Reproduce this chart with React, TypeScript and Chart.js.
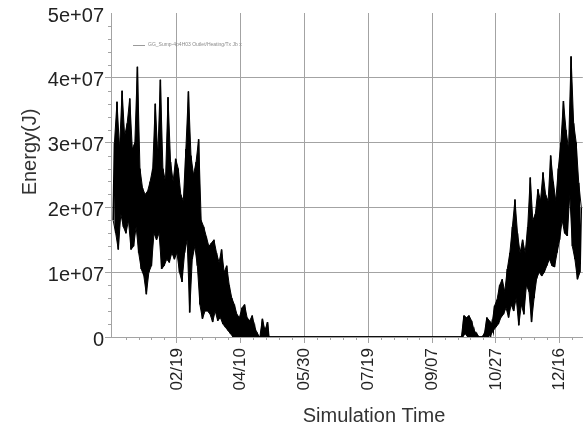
import React, { useEffect, useRef } from "react";
import { Chart, registerables } from "chart.js";

Chart.register(...registerables);

// ---- data (energy values in units of 1e7 J) ----
const seriesLabel = "GG_Sump-4p4H03 Outlet/Heating/Tx Jb x";
const xTickDays = [50, 100, 150, 200, 250, 300, 350];
const xTickLabels = ["02/19", "04/10", "05/30", "07/19", "09/07", "10/27", "12/16"];
const yTickValues = [0, 1e7, 2e7, 3e7, 4e7, 5e7];
const yTickLabels = ["0", "1e+07", "2e+07", "3e+07", "4e+07", "5e+07"];
const xAxisRange = [-1.7, 368.2];

// winter part: one low / high pair every 2 days starting at day 0
const winterStartDay = 0;
const winterHigh = [
  3.0, 3.63, 2.9, 3.8, 3.1, 3.3, 3.68, 2.9, 3.0, 4.17,
  2.6, 2.3, 2.2, 2.25, 2.4, 2.6, 3.6, 2.8, 3.97, 2.6,
  2.4, 3.7, 2.7, 2.4, 2.75, 2.6, 2.2, 2.1, 2.9, 3.79,
  2.8, 2.5, 2.7, 3.05, 1.8, 1.7, 1.55, 1.4, 1.45, 1.5,
  1.3, 1.15, 1.35, 1.0, 1.1, 0.8, 0.6, 0.5, 0.35, 0.3,
  0.45, 0.5, 0.3, 0.25, 0.33, 0.15, 0.05, 0, 0.28, 0.1,
  0.23,
];
const winterLow = [
  1.8, 1.6, 1.35, 1.9, 1.7, 1.6, 1.8, 1.35, 1.4, 1.7,
  1.3, 1.05, 0.95, 0.66, 1.0, 1.1, 1.6, 1.5, 1.6, 1.05,
  1.1, 1.2, 1.15, 1.3, 1.2, 1.3, 1.0, 0.85, 1.3, 1.5,
  0.38, 1.2, 1.4, 1.1, 0.5, 0.28, 0.4, 0.4, 0.35, 0.23,
  0.4, 0.25, 0.3, 0.2, 0.15, 0.1, 0.05, 0, 0, 0,
  0, 0, 0, 0, 0, 0, 0, 0, 0, 0,
  0,
];

// summer: zero energy between these days
const summerZeroDays = [122, 271];

// autumn part: one low / high pair every 2 days starting at day 272
const autumnStartDay = 272;
const autumnHigh = [
  0, 0.33, 0.3, 0.33, 0.25, 0.1, 0.05, 0, 0, 0.05,
  0.3, 0.25, 0.2, 0.48, 0.58, 0.8, 0.89, 0.7, 1.05, 1.3,
  1.7, 2.12, 1.6, 1.3, 1.5, 1.3, 1.7, 2.46, 1.8, 1.9,
  2.28, 2.1, 2.54, 2.2, 2.1, 2.8, 2.4, 2.1, 2.6, 3.0,
  3.64, 3.2, 2.9, 4.33, 3.3, 3.0, 2.38, 2.0,
];
const autumnLow = [
  0, 0, 0.05, 0, 0, 0, 0, 0, 0, 0,
  0, 0, 0.03, 0.1, 0.15, 0.2, 0.3, 0.35, 0.45, 0.3,
  0.5, 0.4, 0.6, 0.18, 0.5, 0.35, 0.8, 0.7, 0.23, 0.6,
  0.9, 1.0, 0.94, 1.0, 1.1, 1.2, 1.1, 1.08, 1.3, 1.5,
  1.8, 1.6, 1.56, 2.2, 1.4, 1.2, 0.89, 1.0,
];

const UNIT = 1e7;

type Pt = { x: number; y: number };

function buildZigzag(): Pt[] {
  const pts: Pt[] = [];
  winterLow.forEach((lo, i) => {
    const d = winterStartDay + i * 2;
    pts.push({ x: d, y: lo * UNIT });
    pts.push({ x: d + 1, y: winterHigh[i] * UNIT });
  });
  summerZeroDays.forEach((d) => pts.push({ x: d, y: 0 }));
  autumnLow.forEach((lo, i) => {
    const d = autumnStartDay + i * 2;
    pts.push({ x: d, y: lo * UNIT });
    pts.push({ x: d + 1, y: autumnHigh[i] * UNIT });
  });
  return pts;
}

function buildEnvelope(which: "high" | "low"): Pt[] {
  const pts: Pt[] = [];
  const wArr = which === "high" ? winterHigh : winterLow;
  const aArr = which === "high" ? autumnHigh : autumnLow;
  const off = which === "high" ? 1 : 0;
  wArr.forEach((v, i) => pts.push({ x: winterStartDay + i * 2 + off, y: v * UNIT }));
  summerZeroDays.forEach((d) => pts.push({ x: d, y: 0 }));
  aArr.forEach((v, i) => pts.push({ x: autumnStartDay + i * 2 + off, y: v * UNIT }));
  return pts;
}

const FONT = "'Liberation Sans', Arial, sans-serif";
const GRID = "#a3a3a3";

const decorPlugin = {
  id: "decor",
  afterDraw(chart: any) {
    const ctx = chart.ctx;
    const xs = chart.scales.x;
    const ys = chart.scales.y;
    const area = chart.chartArea;
    ctx.save();
    // minor ticks
    ctx.strokeStyle = GRID;
    ctx.lineWidth = 1;
    ctx.beginPath();
    for (let v = 0; v <= 5e7; v += 2e6) {
      if (v % 1e7 === 0) continue;
      const y = Math.round(ys.getPixelForValue(v)) + 0.5;
      ctx.moveTo(area.left - 3, y);
      ctx.lineTo(area.left, y);
    }
    for (let d = 0; d <= 360; d += 10) {
      if (d % 50 === 0) continue;
      const x = Math.round(xs.getPixelForValue(d)) + 0.5;
      ctx.moveTo(x, area.bottom);
      ctx.lineTo(x, area.bottom + 3);
    }
    ctx.stroke();

    // legend
    const lx = area.left + 22;
    const ly = area.top + 32;
    ctx.strokeStyle = "#9a9a9a";
    ctx.beginPath();
    ctx.moveTo(lx, ly + 0.5);
    ctx.lineTo(lx + 12, ly + 0.5);
    ctx.stroke();
    ctx.fillStyle = "#8a8a8a";
    ctx.font = `5px ${FONT}`;
    ctx.textBaseline = "middle";
    ctx.textAlign = "left";
    ctx.fillText(chart.data.datasets[0].label, lx + 15, ly);

    // axis titles
    ctx.fillStyle = "#333";
    ctx.font = `20px ${FONT}`;
    ctx.textAlign = "center";
    ctx.textBaseline = "middle";
    ctx.fillText("Simulation Time", 374, 416);
    ctx.translate(30, 152);
    ctx.rotate(-Math.PI / 2);
    ctx.fillText("Energy(J)", 0, 0);
    ctx.restore();
  },
};

export default function App() {
  const ref = useRef<HTMLCanvasElement | null>(null);
  useEffect(() => {
    if (!ref.current) return;
    const chart = new Chart(ref.current, {
      type: "line",
      data: {
        datasets: [
          {
            label: seriesLabel,
            data: buildZigzag(),
            borderColor: "#000",
            borderWidth: 1.6,
            pointRadius: 0,
            tension: 0,
            fill: false,
          },
          {
            label: "high",
            data: buildEnvelope("high"),
            borderColor: "#000",
            borderWidth: 1,
            pointRadius: 0,
            tension: 0,
            fill: false,
          },
          {
            label: "low",
            data: buildEnvelope("low"),
            borderColor: "#000",
            borderWidth: 1,
            backgroundColor: "#000",
            pointRadius: 0,
            tension: 0,
            fill: 1,
          },
        ],
      },
      plugins: [decorPlugin],
      options: {
        responsive: false,
        animation: false,
        devicePixelRatio: 1,
        parsing: false,
        normalized: true,
        layout: { padding: { top: 12, right: 0, left: 0, bottom: 0 } },
        plugins: {
          legend: { display: false },
          tooltip: { enabled: false },
          decimation: { enabled: false },
          filler: { propagate: false },
        },
        scales: {
          x: {
            type: "linear",
            min: xAxisRange[0],
            max: xAxisRange[1],
            afterFit: (s: any) => {
              s.height = 93;
            },
            afterBuildTicks: (s: any) => {
              s.ticks = xTickDays.map((v) => ({ value: v }));
            },
            grid: {
              color: GRID,
              lineWidth: 1,
              tickLength: 6,
              tickColor: GRID,
            },
            border: { display: true, color: GRID, width: 1 },
            ticks: {
              autoSkip: false,
              minRotation: 90,
              maxRotation: 90,
              padding: 5,
              color: "#222",
              font: { family: FONT, size: 17 },
              callback: (v: any) => {
                const i = xTickDays.indexOf(Number(v));
                return i >= 0 ? xTickLabels[i] : "";
              },
            },
          },
          y: {
            type: "linear",
            min: yTickValues[0],
            max: yTickValues[yTickValues.length - 1],
            afterFit: (s: any) => {
              s.width = 111;
            },
            afterBuildTicks: (s: any) => {
              s.ticks = yTickValues.map((v) => ({ value: v }));
            },
            grid: {
              color: (c: any) => (c.tick && c.tick.value === 5e7 ? "rgba(0,0,0,0)" : GRID),
              lineWidth: 1,
              tickLength: 6,
            },
            border: { display: true, color: GRID, width: 1 },
            ticks: {
              autoSkip: false,
              padding: 1,
              labelOffset: 3,
              color: "#222",
              font: { family: FONT, size: 20 },
              callback: (v: any) => {
                const i = yTickValues.indexOf(Number(v));
                return i >= 0 ? yTickLabels[i] : "";
              },
            },
          },
        },
      },
    });
    return () => chart.destroy();
  }, []);
  return (
    <div style={{ position: "fixed", left: 0, top: 0, width: 585, height: 430, background: "#fff", overflow: "hidden" }}>
      <canvas ref={ref} width={585} height={430} style={{ display: "block" }} />
    </div>
  );
}
